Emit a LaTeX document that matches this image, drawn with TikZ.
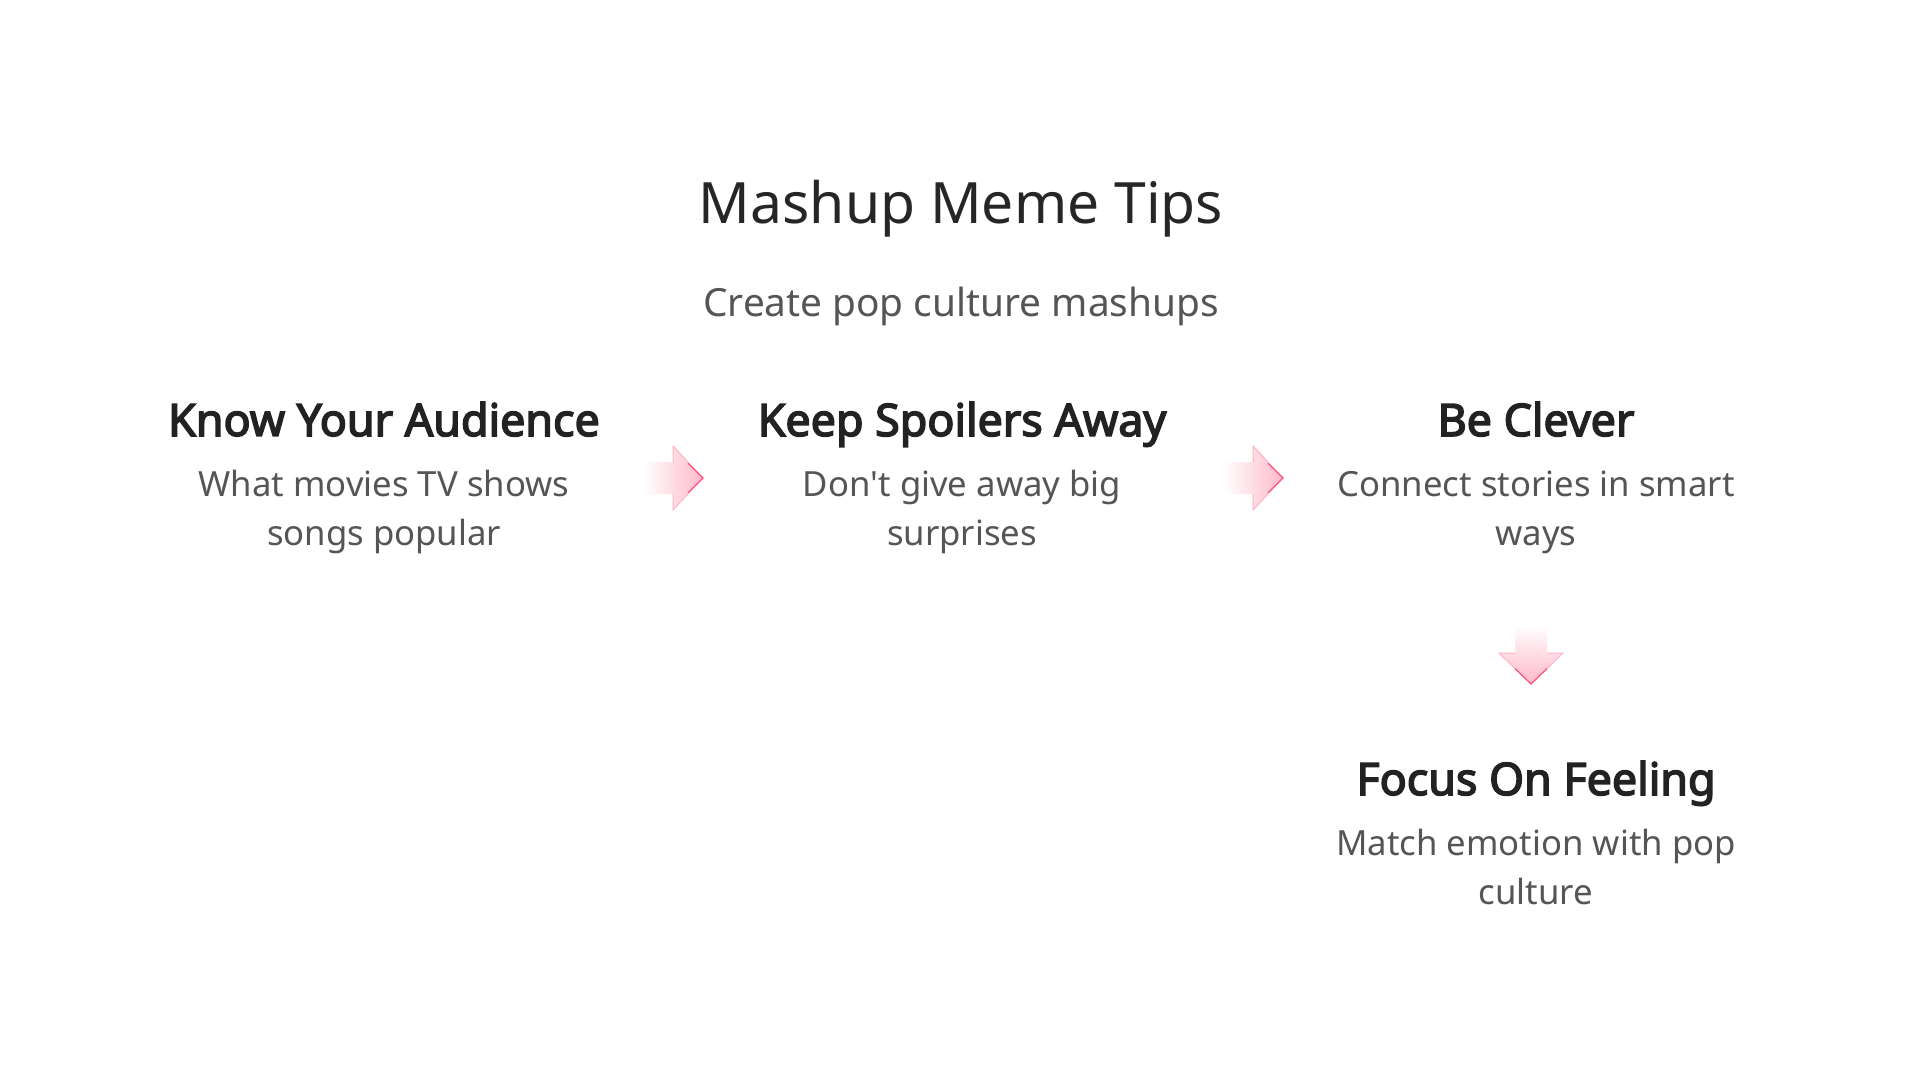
\documentclass[tikz,border=0pt]{standalone}
\usepackage{fontspec}
\setmainfont{Noto Sans}[AutoFakeBold=3.4]
\usetikzlibrary{calc}
\definecolor{titlegray}{HTML}{262626}
\definecolor{headgray}{HTML}{222222}
\definecolor{descgray}{HTML}{555555}
\definecolor{arrowpink}{HTML}{FFB8C9}
\definecolor{arrowlight}{HTML}{FFB3C4}
\definecolor{arrowedge}{HTML}{FF4D7A}
\def\RightFlowArrow#1{%
\path[left color=white,right color=arrowpink] (#1) ++(-31,-16) -- ++(29,0) -- ++(0,-16)
 -- ++(30,32) -- ++(-30,32) -- ++(0,-16) -- ++(-29,0) -- cycle;
\draw[arrowlight,line width=1pt] (#1) ++(-2,-16) -- ++(0,-16) -- ++(15,16);
\draw[arrowlight,line width=1pt] (#1) ++(-2,16) -- ++(0,16) -- ++(15,-16);
\draw[arrowedge,line width=1.2pt,line join=miter] (#1) ++(13,-15) -- ++(15,15) -- ++(-15,15);
}
\def\DownFlowArrow#1{%
\path[top color=white,bottom color=arrowpink] (#1) ++(-16,-31) -- ++(0,28) -- ++(-16,0)
 -- ++(32,31) -- ++(32,-31) -- ++(-16,0) -- ++(0,-28) -- cycle;
\draw[arrowlight,line width=1pt] (#1) ++(-16,-3) -- ++(-16,0) -- ++(16,15.5);
\draw[arrowlight,line width=1pt] (#1) ++(16,-3) -- ++(16,0) -- ++(-16,15.5);
\draw[arrowedge,line width=1.2pt,line join=miter] (#1) ++(-16,12.5) -- ++(16,15.5) -- ++(16,-15.5);
}

\begin{document}
\begin{tikzpicture}
[x=1pt,y=-1pt,
titletext/.style={anchor=base,inner sep=0pt,text=titlegray,
font=\fontsize{57}{60}\selectfont},
subtitletext/.style={anchor=base,inner sep=0pt,text=descgray,
font=\fontsize{38.8}{44}\selectfont},
headtext/.style={anchor=base,inner sep=0pt,text=headgray,
font=\bfseries\fontsize{44.8}{50}\selectfont},
desctext/.style={anchor=base,inner sep=0pt,text=descgray,align=center,
font=\fontsize{34.7}{49}\selectfont}
]
\useasboundingbox [fill=white] (0,0) rectangle (1920,1080);
% title
\node [titletext] (title) at (961,223) {Mashup Meme Tips};
\node [subtitletext] (subtitle) at (961,316) {Create pop culture mashups};
% steps
\node [headtext] (know) at (384,436) {Know Your Audience};
\node [desctext] (knowdesc) at ([yshift=-109pt]know.base) {What movies TV shows\\songs popular};
\node [headtext] (keep) at (962,436) {Keep Spoilers Away};
\node [desctext] (keepdesc) at ([yshift=-109pt]keep.base) {Don\textquotesingle t give away big\\surprises};
\node [headtext] (clever) at (1536,436) {Be Clever};
\node [desctext] (cleverdesc) at ([yshift=-109pt]clever.base) {Connect stories in smart\\ways};
\node [headtext] (focus) at (1536,795) {Focus On Feeling};
\node [desctext] (focusdesc) at ([yshift=-109pt]focus.base) {Match emotion with pop\\culture};
% arrows
\coordinate (arrowA) at ($(know.base)!0.5!(keep.base)+(2,42)$);
\coordinate (arrowB) at ($(keep.base)!0.5!(clever.base)+(6,42)$);
\coordinate (arrowC) at ($(clever.base)+(-5,220)$);
\RightFlowArrow{arrowA}
\RightFlowArrow{arrowB}
\DownFlowArrow{arrowC}
\end{tikzpicture}
\end{document}
